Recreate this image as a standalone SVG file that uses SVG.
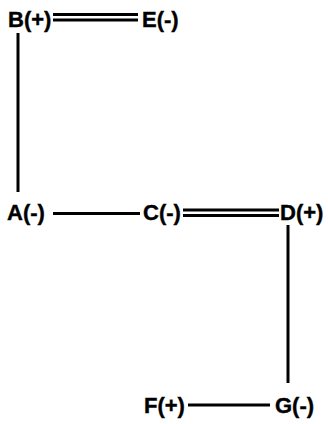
<svg xmlns="http://www.w3.org/2000/svg" width="328" height="424" viewBox="0 0 328 424">
<style>
text{font-family:"Liberation Sans",Arial,sans-serif;font-weight:bold;font-size:22px;fill:#000;stroke:#000;stroke-width:0.4}
.l{stroke:#000;stroke-width:3;fill:none}
</style>
<rect width="328" height="424" fill="#fff"/>
<g id="connectors">
<line class="l" x1="53" y1="14.5" x2="138" y2="14.5"/>
<line class="l" x1="53" y1="20" x2="138" y2="20"/>
<line class="l" x1="18" y1="33" x2="18" y2="192"/>
<line class="l" x1="53" y1="213.5" x2="140" y2="213.5"/>
<line class="l" x1="183" y1="210" x2="279" y2="210"/>
<line class="l" x1="183" y1="215.5" x2="279" y2="215.5"/>
<line class="l" x1="288" y1="225" x2="288" y2="383"/>
<line class="l" x1="188" y1="405" x2="270" y2="405"/>
</g>
<g id="B"><text x="8" y="27">B(+)</text></g>
<g id="E"><text x="142" y="27">E(-)</text></g>
<g id="A"><text x="7" y="220">A(-)</text></g>
<g id="C"><text x="143" y="220">C(-)</text></g>
<g id="D"><text x="280" y="220">D(+)</text></g>
<g id="F"><text x="144" y="413">F(+)</text></g>
<g id="G"><text x="275" y="413">G(-)</text></g>
</svg>
